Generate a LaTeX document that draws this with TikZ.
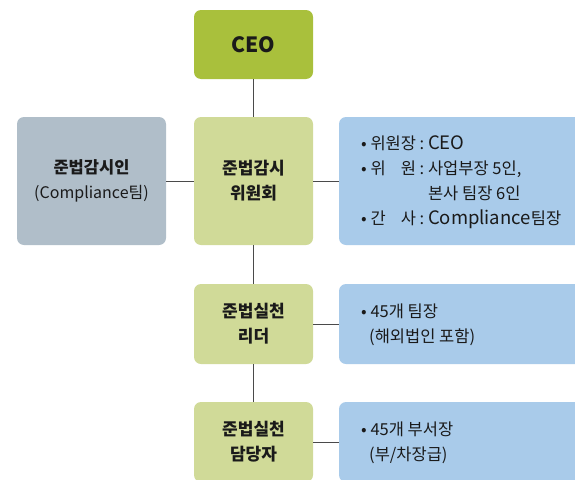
\documentclass[tikz,border=0pt]{standalone}
\usepackage{fontspec}
\setmainfont{Noto Sans CJK KR}
\usetikzlibrary{positioning}
\definecolor{ceogreen}{HTML}{A9C03C}
\definecolor{lightgreen}{HTML}{D0DA98}
\definecolor{boxgray}{HTML}{B0BEC9}
\definecolor{boxblue}{HTML}{A9CBEA}
\definecolor{linegray}{HTML}{4A4A4A}
\definecolor{txt}{HTML}{1A1A1A}
\newlength\lblw
\newcommand\lat[1]{{\fontsize{18.5}{25}\selectfont #1}}
\tikzset{
  box/.style={rectangle, rounded corners=7pt, inner sep=0pt, outer sep=0pt, anchor=north west, text=txt, align=center},
  ceobox/.style={box, fill=ceogreen, minimum width=119pt, minimum height=69pt, font=\fontsize{21}{24}\selectfont\bfseries},
  greenbox/.style={box, fill=lightgreen, minimum width=119pt, font=\fontsize{17}{25}\selectfont\bfseries},
  graybox/.style={box, fill=boxgray, minimum width=149pt, minimum height=128pt, font=\fontsize{16}{25}\selectfont},
  bluebox/.style={box, fill=boxblue, minimum width=250pt},
  desc/.style={anchor=west, inner sep=0pt, text=txt, align=left, font=\fontsize{16.5}{25}\selectfont},
  conn/.style={draw=linegray, line width=0.9pt}
}
\begin{document}
\begin{tikzpicture}[x=1pt,y=-1pt]
\useasboundingbox (0,0) rectangle (575,479);
\clip (0,0) rectangle (575,479);
% boxes
\node[ceobox] (ceo) at (194,10) {CEO};
\node[greenbox, minimum height=128pt] (comm) at (194,117) {준법감시\\위원회};
\node[graybox] (aud) at (17,117) {{\fontsize{16.5}{25}\selectfont\bfseries 준법감시인}\\(Compliance팀)};
\node[bluebox, minimum height=128pt] (commd) at (339,117) {};
\node[greenbox, minimum height=80pt] (lead) at (194,284) {준법실천\\리더};
\node[bluebox, minimum height=80pt] (leadd) at (339,284) {};
\node[greenbox, minimum height=80pt] (staff) at (194,402) {준법실천\\담당자};
\node[bluebox, minimum height=80pt] (staffd) at (339,402) {};
% description texts
\node[desc] (commt) at (361,182) {\settowidth{\lblw}{위원장}\begin{tabular}{@{}l@{\ :\ }l@{}}
•\ 위원장 & \lat{CEO}\\
•\ \makebox[\lblw][s]{위\hfill 원} & 사업부장 5인,\\
\multicolumn{1}{@{}l@{\phantom{\ :\ }}}{} & 본사 팀장 6인\\
•\ \makebox[\lblw][s]{간\hfill 사} & \lat{Compliance}팀장
\end{tabular}};
\node[desc] (leadt) at (361,325) {•\ 45개 팀장\\\hspace*{8pt}(해외법인 포함)};
\node[desc] (stafft) at (361,443) {•\ 45개 부서장\\\hspace*{8pt}(부/차장급)};
% connectors
\draw[conn] (ceo.south) -- (comm.north);
\draw[conn] (comm.south) -- (lead.north);
\draw[conn] (lead.south) -- (staff.north);
\draw[conn] (aud.east) -- (comm.west);
\draw[conn] (comm.east) -- (commd.west);
\draw[conn] (lead.east) -- (leadd.west);
\draw[conn] (staff.east) -- (staffd.west);
\end{tikzpicture}
\end{document}
